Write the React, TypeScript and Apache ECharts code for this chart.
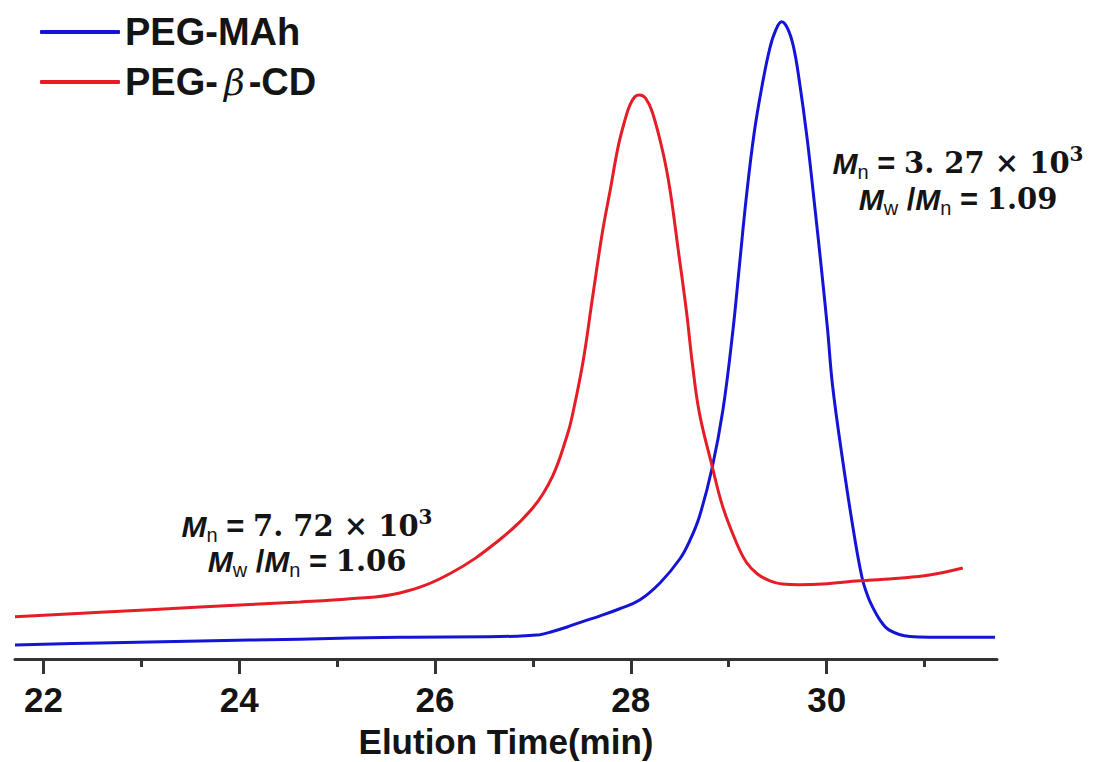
import React, { useEffect, useRef } from "react";
import * as echarts from "echarts";

// Elution time (min) and detector signal (a.u., 0-100)
const blueTime = [21.71, 22.58, 23.6, 24.62, 25.64, 26.66, 27.07, 27.2, 27.35, 27.5, 27.68, 27.88, 28.09, 28.3, 28.5, 28.6, 28.7, 28.83, 28.94, 29.04, 29.11, 29.18, 29.26, 29.34, 29.42, 29.48, 29.54, 29.6, 29.66, 29.72, 29.8, 29.88, 29.95, 30.01, 30.06, 30.16, 30.27, 30.36, 30.42, 30.47, 30.54, 30.64, 30.85, 31.05, 31.36, 31.72];
const blueSignal = [2.2, 2.5, 2.8, 3.1, 3.4, 3.5, 3.8, 4.3, 5.0, 5.8, 6.7, 7.8, 9.2, 11.9, 15.6, 18.4, 22.2, 29.8, 38.8, 50.9, 61.5, 72.1, 82.1, 89.4, 95.3, 98.1, 99.4, 98.4, 95.6, 90.3, 81.3, 70.4, 60.4, 51.3, 42.7, 31.4, 20.4, 12.8, 9.8, 8.1, 6.2, 4.5, 3.5, 3.4, 3.4, 3.4];

const redTime = [21.71, 22.58, 23.6, 24.62, 25.13, 25.64, 26.15, 26.66, 27.0, 27.2, 27.35, 27.4, 27.51, 27.61, 27.71, 27.79, 27.87, 27.94, 27.99, 28.04, 28.09, 28.15, 28.22, 28.33, 28.4, 28.48, 28.57, 28.63, 28.7, 28.83, 28.94, 29.08, 29.18, 29.29, 29.42, 29.55, 29.72, 29.96, 30.34, 30.74, 31.05, 31.39];
const redSignal = [6.6, 7.3, 8.1, 8.9, 9.4, 10.3, 13.3, 18.6, 23.6, 28.5, 34.9, 37.8, 46.2, 56.5, 66.6, 73.2, 79.9, 84.1, 86.4, 87.7, 88.0, 87.5, 85.3, 78.9, 73.2, 64.3, 54.0, 45.9, 38.4, 30.1, 23.7, 18.1, 15.1, 13.3, 12.2, 11.7, 11.6, 11.7, 12.2, 12.6, 13.1, 14.2];

const seriesNames = ["PEG-MAh", "PEG-β-CD"];
const majorTicks = [22, 24, 26, 28, 30];
const minorTicks = [23, 25, 27, 29, 31];
const axisTitle = "Elution Time(min)";

const BLUE = "#1414d6";
const RED = "#e41d26";
const INK = "#141414";
const SANS = "Liberation Sans, Arial, sans-serif";
const SERIF = "DejaVu Serif, serif";

const richStyles = {
  m: { fontFamily: SANS, fontStyle: "italic", fontWeight: "bold", fontSize: 30, lineHeight: 38, fill: INK },
  s: { fontFamily: SANS, fontWeight: "normal", fontSize: 20, lineHeight: 20, padding: [18, 0, 0, 0], fill: INK },
  p: { fontFamily: SERIF, fontWeight: "bold", fontSize: 20, lineHeight: 20, padding: [0, 0, 18, 0], fill: INK },
  e: { fontFamily: SANS, fontWeight: "bold", fontSize: 31, lineHeight: 38, fill: INK },
  v: { fontFamily: SERIF, fontWeight: "bold", fontSize: 29, lineHeight: 38, fill: INK },
};

const annText = (x: number, y: number, text: string) => ({
  type: "text",
  x,
  y,
  silent: true,
  style: { text, rich: richStyles, align: "center", verticalAlign: "middle", fill: INK },
});

export default function App() {
  const ref = useRef<HTMLDivElement>(null);
  useEffect(() => {
    if (!ref.current) return;
    const chart = echarts.init(ref.current, undefined, { renderer: "svg" });
    const toPairs = (t: number[], v: number[]) => t.map((x, i) => [x, v[i]]);
    chart.setOption({
      animation: false,
      backgroundColor: "#ffffff",
      grid: { left: 15, right: 99, top: 18, bottom: 103, containLabel: false, outerBoundsMode: "none" },
      legend: {
        orient: "vertical",
        left: 35,
        top: 7,
        itemWidth: 80,
        itemHeight: 4,
        itemGap: 10,
        icon: "roundRect",
        selectedMode: false,
        data: seriesNames,
        formatter: (n: string) => n.replace("β", "{b|β}"),
        textStyle: {
          fontFamily: SANS,
          fontWeight: "bold",
          fontSize: 38,
          lineHeight: 40,
          color: INK,
          rich: {
            b: { fontFamily: SERIF, fontStyle: "italic", fontWeight: "normal", fontSize: 36, lineHeight: 40, color: INK, padding: [0, 4, 0, 6] },
          },
        },
      },
      xAxis: [
        {
          type: "value",
          min: 21.71,
          max: 31.74,
          position: "bottom",
          axisLine: { show: true, lineStyle: { color: "#333", width: 3 } },
          axisTick: { show: true, customValues: majorTicks, length: 15, lineStyle: { color: "#333", width: 3 } },
          axisLabel: {
            show: true,
            customValues: majorTicks,
            margin: 24,
            lineHeight: 32,
            fontFamily: SANS,
            fontWeight: "bold",
            fontSize: 35,
            color: INK,
          },
          splitLine: { show: false },
          name: axisTitle,
          nameLocation: "middle",
          nameGap: 65,
          nameMoveOverlap: false,
          nameTextStyle: { fontFamily: SANS, fontWeight: "bold", fontSize: 35, lineHeight: 34, color: INK, verticalAlign: "top" },
        },
        {
          type: "value",
          min: 21.71,
          max: 31.74,
          position: "bottom",
          offset: 0,
          axisLine: { show: false },
          axisTick: { show: true, customValues: minorTicks, length: 8, lineStyle: { color: "#333", width: 3 } },
          axisLabel: { show: false },
          splitLine: { show: false },
        },
      ],
      yAxis: { type: "value", min: 0, max: 100, show: false, splitLine: { show: false } },
      series: [
        {
          name: seriesNames[0],
          type: "line",
          data: toPairs(blueTime, blueSignal),
          showSymbol: false,
          smooth: 0.4,
          lineStyle: { color: BLUE, width: 3 },
          itemStyle: { color: BLUE },
          silent: true,
        },
        {
          name: seriesNames[1],
          type: "line",
          data: toPairs(redTime, redSignal),
          showSymbol: false,
          smooth: 0.4,
          lineStyle: { color: RED, width: 3 },
          itemStyle: { color: RED },
          silent: true,
        },
      ],
      graphic: [
        annText(958, 163, "{m|M}{s|n}{e| = }{v|3. 27 × 10}{p|3}"),
        annText(958, 199, "{m|M}{s|w}{e| /}{m|M}{s|n}{e| = }{v|1.09}"),
        annText(307, 526, "{m|M}{s|n}{e| = }{v|7. 72 × 10}{p|3}"),
        annText(307, 561, "{m|M}{s|w}{e| /}{m|M}{s|n}{e| = }{v|1.06}"),
      ],
    });
    return () => chart.dispose();
  }, []);
  return <div ref={ref} style={{ position: "fixed", left: 0, top: 0, width: 1096, height: 762 }} />;
}
